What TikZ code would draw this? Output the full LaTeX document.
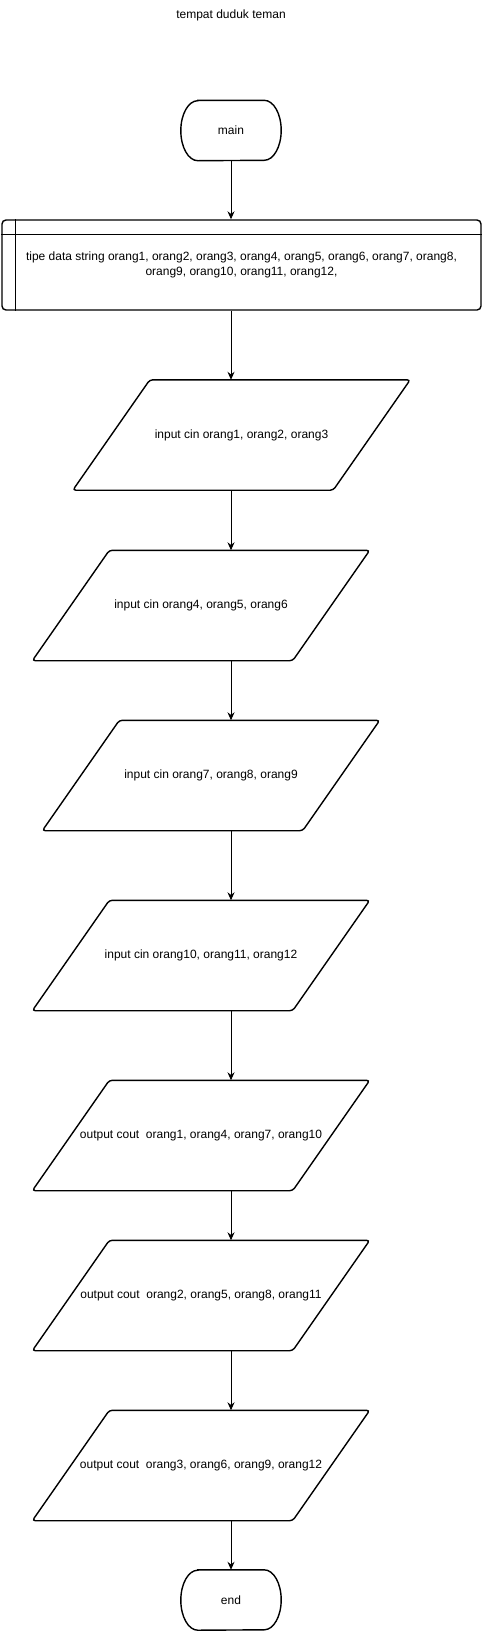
\documentclass[tikz,border=0pt]{standalone}
\usepackage{fontspec}
\setmainfont{Liberation Sans}
\usetikzlibrary{arrows.meta}

\begin{document}
\begin{tikzpicture}[x=1pt,y=1pt,
    every node/.style={font=\fontsize{12}{15}\selectfont},
    shapeline/.style={line width=1.4pt},
    termbox/.style={minimum width=100pt,minimum height=60pt,inner sep=0pt,
      append after command={\pgfextra{\draw[shapeline]
        ([xshift=17pt]\tikzlastnode.north west) -- ([xshift=-17pt]\tikzlastnode.north east)
        arc[start angle=90,end angle=-90,x radius=17pt,y radius=30pt]
        -- ([xshift=17pt]\tikzlastnode.south west)
        arc[start angle=270,end angle=90,x radius=17pt,y radius=30pt] -- cycle;}}},
    declbox/.style={draw,shapeline,rounded corners=4pt,minimum width=479pt,
      minimum height=90pt,align=center,inner sep=0pt},
    iobox/.style={minimum width=337pt,minimum height=110pt,inner sep=0pt,
      append after command={\pgfextra{\draw[shapeline,rounded corners=3pt]
        ([xshift=77pt]\tikzlastnode.north west) -- (\tikzlastnode.north east)
        -- ([xshift=-77pt]\tikzlastnode.south east) -- (\tikzlastnode.south west)
        -- cycle;}}},
    arrow/.style={line width=1pt,-{Stealth[length=8pt,width=7pt]}}]
    \useasboundingbox (0,0) rectangle (482,-1631);
    \node (title) at (231,-15) {tempat duduk teman};
    \node[termbox] (main) at (231,-130.5) {main};
    \node[declbox] (decl) at (241.5,-265) {tipe data string orang1, orang2, orang3, orang4, orang5, orang6, orang7, orang8,\\orang9, orang10, orang11, orang12,};
    \draw[shapeline] ([yshift=-15pt]decl.north west) -- ([yshift=-15pt]decl.north east);
    \draw[shapeline] ([xshift=14pt]decl.north west) -- ([xshift=14pt]decl.south west);
    \node[iobox] (in1) at (241.5,-435) {input cin orang1, orang2, orang3};
    \node[iobox] (in2) at (201,-605.5) {input cin orang4, orang5, orang6};
    \node[iobox] (in3) at (211,-775.5) {input cin orang7, orang8, orang9};
    \node[iobox] (in4) at (201,-955.5) {input cin orang10, orang11, orang12};
    \node[iobox] (out1) at (201,-1135.5) {output cout\ \ orang1, orang4, orang7, orang10};
    \node[iobox] (out2) at (201,-1295.5) {output cout\ \ orang2, orang5, orang8, orang11};
    \node[iobox] (out3) at (201,-1465.5) {output cout\ \ orang3, orang6, orang9, orang12};
    \node[termbox] (finish) at (231,-1600) {end};
    \draw[arrow] (main.south) -- (main.south |- decl.north);
    \draw[arrow] (decl.south -| main) -- (in1.north -| main);
    \draw[arrow] (in1.south -| main) -- (in2.north -| main);
    \draw[arrow] (in2.south -| main) -- (in3.north -| main);
    \draw[arrow] (in3.south -| main) -- (in4.north -| main);
    \draw[arrow] (in4.south -| main) -- (out1.north -| main);
    \draw[arrow] (out1.south -| main) -- (out2.north -| main);
    \draw[arrow] (out2.south -| main) -- (out3.north -| main);
    \draw[arrow] (out3.south -| main) -- (finish.north);
\end{tikzpicture}
\end{document}
